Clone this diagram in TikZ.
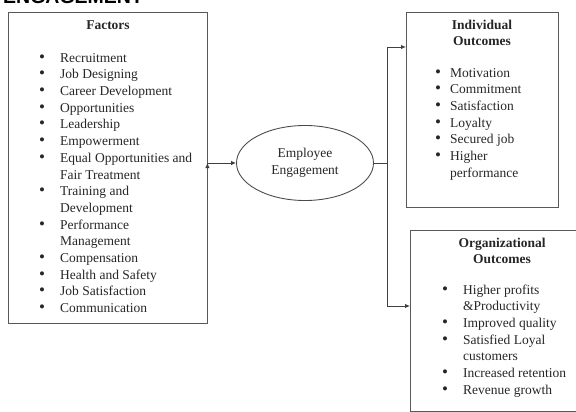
\documentclass[tikz,border=0pt]{standalone}
\usepackage{fontspec}
\setmainfont{Liberation Serif}
\newfontfamily\headfont{Liberation Sans}
\usetikzlibrary{shapes,arrows.meta}
\newcommand{\bul}{{\fontsize{17}{16.7}\selectfont\textbullet}}

\begin{document}
\begin{tikzpicture}[x=1pt,y=-1pt,
  box/.style={shape=rectangle,draw=black!65,line width=0.9pt,inner sep=0pt},
  ttl/.style={align=center,inner sep=0pt,text=black!85,font=\fontsize{13.5}{16}\selectfont\bfseries},
  lst/.style={anchor=north west,inner sep=0pt,text=black!85,font=\fontsize{13.5}{16.7}\selectfont},
  link/.style={draw=black!75,line width=0.9pt},
  tip/.style={-{Latex[length=5pt,width=4.5pt]}}]
\useasboundingbox (0,0) rectangle (576,412);
\clip (0,0) rectangle (576,412);

\node[anchor=base west,inner sep=0pt,font=\headfont\fontsize{19.5}{20}\selectfont\bfseries] (head) at (3,4) {ENGAGEMENT};

% factors
\node[box,minimum width=199,minimum height=311] (fac) at (107.5,167.5) {};
\node[ttl] (facttl) at (108,25) {Factors};
\node[lst] (faclst) at (39,50.3) {\begin{tabular}{@{}l@{\hspace{15pt}}l@{}}
\bul & Recruitment\\
\bul & Job Designing\\
\bul & Career Development\\
\bul & Opportunities\\
\bul & Leadership\\
\bul & Empowerment\\
\bul & Equal Opportunities and\\
 & Fair Treatment\\
\bul & Training and\\
 & Development\\
\bul & Performance\\
 & Management\\
\bul & Compensation\\
\bul & Health and Safety\\
\bul & Job Satisfaction\\
\bul & Communication
\end{tabular}};

% engagement
\node[ellipse,draw=black!70,line width=0.9pt,minimum width=137,minimum height=75,align=center,inner sep=0pt,text=black!85,font=\fontsize{13.5}{16.7}\selectfont] (eng) at (305,163) {Employee\\Engagement};

% outcomes
\node[box,minimum width=152,minimum height=195] (ind) at (482,109.5) {};
\node[ttl] (indttl) at (482,32.5) {Individual\\Outcomes};
\node[lst] (indlst) at (435,65.3) {\begin{tabular}{@{}l@{\hspace{9pt}}l@{}}
\bul & Motivation\\
\bul & Commitment\\
\bul & Satisfaction\\
\bul & Loyalty\\
\bul & Secured job\\
\bul & Higher\\
 & performance
\end{tabular}};

\node[box,minimum width=190,minimum height=181] (org) at (505,320.5) {};
\node[ttl] (orgttl) at (502,251) {Organizational\\Outcomes};
\node[lst] (orglst) at (442,282.3) {\begin{tabular}{@{}l@{\hspace{15pt}}l@{}}
\bul & Higher profits\\
 & \&Productivity\\
\bul & Improved quality\\
\bul & Satisfied Loyal\\
 & customers\\
\bul & Increased retention\\
\bul & Revenue growth
\end{tabular}};

% connectors
\coordinate (split) at (387,163);
\coordinate (indin) at (406,47);
\coordinate (orgin) at (410,306);
\path [link,tip] (fac.east |- eng.west) edge node {} (eng.west);
\path [link] (eng.east) edge node {} (split);
\draw [link,tip] (split) |- (indin);
\draw [link,tip] (split) |- (orgin);
\end{tikzpicture}
\end{document}
